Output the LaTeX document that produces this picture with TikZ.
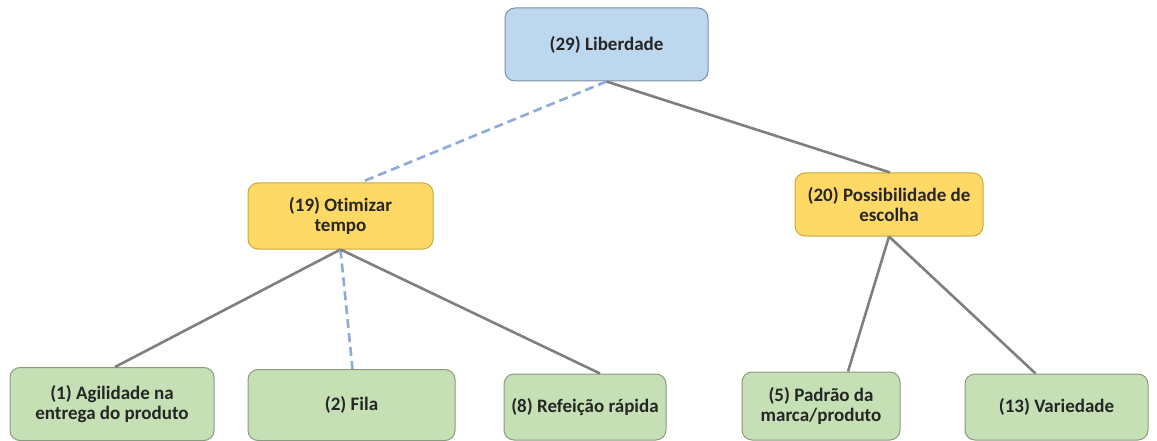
\documentclass[tikz,border=0pt]{standalone}
\usepackage{fontspec}
\setmainfont{Carlito}[Ligatures=CommonOff]
\definecolor{bluefill}{HTML}{BDD7EE}
\definecolor{blueline}{HTML}{7C8FA6}
\definecolor{yelfill}{HTML}{FFD966}
\definecolor{yelline}{HTML}{C9A93A}
\definecolor{grnfill}{HTML}{C5E0B4}
\definecolor{grnline}{HTML}{8A9A80}
\definecolor{conn}{HTML}{7F7F7F}
\definecolor{dashc}{HTML}{8EA9DB}
\begin{document}
\begin{tikzpicture}[x=1pt,y=-1pt,
  box/.style={rounded corners=10pt, line width=1pt, inner sep=0pt, align=center,
    font=\fontsize{19}{20}\selectfont\bfseries, text=black!85},
  bluebox/.style={box, draw=blueline, fill=bluefill},
  yelbox/.style={box, draw=yelline, fill=yelfill},
  grnbox/.style={box, draw=grnline, fill=grnfill},
  solidc/.style={draw=conn, line width=2.6pt},
  dashcon/.style={draw=dashc, line width=2.6pt, dash pattern=on 9pt off 5pt}]
\useasboundingbox (0,0) rectangle (1157,441);
\node[bluebox, minimum width=203pt, minimum height=73pt] (lib) at (606.5,44.5) {(29) Liberdade};
\node[yelbox, minimum width=185pt, minimum height=66pt] (oti) at (340.5,216) {(19) Otimizar\\tempo};
\node[yelbox, minimum width=188pt, minimum height=63pt] (pos) at (889,204.5) {(20) Possibilidade de\\escolha};
\node[grnbox, minimum width=204pt, minimum height=73pt] (agi) at (112,404) {(1) Agilidade na\\entrega do produto};
\node[grnbox, minimum width=207pt, minimum height=71pt] (fil) at (351.5,405) {(2) Fila};
\node[grnbox, minimum width=162pt, minimum height=66pt] (ref) at (585,407) {(8) Refeição rápida};
\node[grnbox, minimum width=158pt, minimum height=68pt] (pad) at (821,406) {(5) Padrão da\\marca/produto};
\node[grnbox, minimum width=183pt, minimum height=66pt] (var) at (1056.5,407) {(13) Variedade};
\coordinate (libb) at ([xshift=0pt]lib.south);
\coordinate (otib) at ([xshift=0pt]oti.south);
\coordinate (posb) at ([xshift=0pt]pos.south);
\draw[dashcon] (libb) -- ([xshift=20pt]oti.north);
\draw[solidc] (libb) -- ([xshift=1pt]pos.north);
\draw[solidc] (otib) -- ([xshift=3pt]agi.north);
\draw[dashcon] (otib) -- ([xshift=1pt]fil.north);
\draw[solidc] (otib) -- ([xshift=15pt]ref.north);
\draw[solidc] (posb) -- ([xshift=27pt]pad.north);
\draw[solidc] (posb) -- ([xshift=-21pt]var.north);
\end{tikzpicture}
\end{document}
